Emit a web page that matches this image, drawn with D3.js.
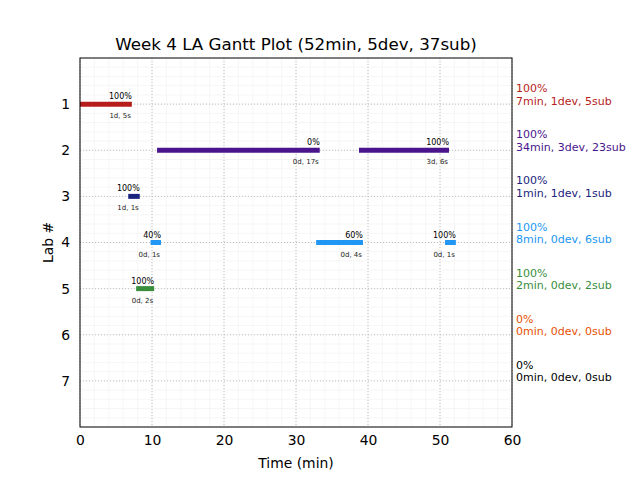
<!DOCTYPE html>
<html><head><meta charset="utf-8">
<script src="https://cdn.jsdelivr.net/npm/d3@7"></script>
<style>body{margin:0;background:#fff;} text{font-family:"DejaVu Sans",sans-serif;}</style>
</head><body><svg id="c" width="640" height="480"></svg>
<script>
const title = "Week 4 LA Gantt Plot (52min, 5dev, 37sub)";
const labs = [1,2,3,4,5,6,7];
const labColors = ["#b71c1c","#4a148c","#1a237e","#2196f3","#388e3c","#e65100","#000000"];
const labPct = ["100%","100%","100%","100%","100%","0%","0%"];
const labSummary = ["7min, 1dev, 5sub","34min, 3dev, 23sub","1min, 1dev, 1sub","8min, 0dev, 6sub","2min, 0dev, 2sub","0min, 0dev, 0sub","0min, 0dev, 0sub"];
const segLab   = [1, 2, 2, 3, 4, 4, 4, 5];
const segStart = [0, 10.7, 38.75, 6.7, 9.8, 32.8, 50.7, 7.8];
const segEnd   = [7.2, 33.3, 51.25, 8.3, 11.25, 39.3, 52.2, 10.3];
const segPct   = ["100%","0%","100%","100%","40%","60%","100%","100%"];
const segInfo  = ["1d, 5s","0d, 17s","3d, 6s","1d, 1s","0d, 1s","0d, 4s","0d, 1s","0d, 2s"];
const xTicks = [0,10,20,30,40,50,60];

const svg = d3.select("#c");
const L=80, R=512, T=58, B=427;
const x = d3.scaleLinear().domain([0,60]).range([L,R]);
const y = d3.scaleLinear().domain([0,8]).range([T,B]);

// minor grid
const g = svg.append("g");
g.selectAll(".mx").data(d3.range(0,60.01,2)).enter().append("line")
 .attr("x1",d=>x(d)).attr("x2",d=>x(d)).attr("y1",T).attr("y2",B)
 .attr("stroke","#f4f4f4").attr("stroke-width",0.8);
g.selectAll(".my").data(d3.range(0,8.01,0.2)).enter().append("line")
 .attr("y1",d=>y(d)).attr("y2",d=>y(d)).attr("x1",L).attr("x2",R)
 .attr("stroke","#f4f4f4").attr("stroke-width",0.8);
// major grid
g.selectAll(".Mx").data(xTicks).enter().append("line")
 .attr("x1",d=>x(d)).attr("x2",d=>x(d)).attr("y1",T).attr("y2",B)
 .attr("stroke","#b0b0b0").attr("stroke-width",0.8).attr("stroke-dasharray","1,2");
g.selectAll(".My").data(labs).enter().append("line")
 .attr("y1",d=>y(d)).attr("y2",d=>y(d)).attr("x1",L).attr("x2",R)
 .attr("stroke","#b0b0b0").attr("stroke-width",0.8).attr("stroke-dasharray","1,2");

// bars
const segs = segLab.map((l,i)=>({lab:l,s:segStart[i],e:segEnd[i],p:segPct[i],info:segInfo[i]}));
svg.selectAll(".bar").data(segs).enter().append("line")
 .attr("x1",d=>x(d.s)).attr("x2",d=>x(d.e)).attr("y1",d=>y(d.lab)).attr("y2",d=>y(d.lab))
 .attr("stroke",d=>labColors[d.lab-1]).attr("stroke-width",5);
svg.selectAll(".pct").data(segs).enter().append("text")
 .attr("x",d=>x(d.e)).attr("y",d=>y(d.lab)-5).attr("text-anchor","end")
 .attr("font-size",8).attr("fill","#000").text(d=>d.p);
svg.selectAll(".info").data(segs).enter().append("text")
 .attr("x",d=>x(d.e)-1).attr("y",d=>y(d.lab)+14).attr("text-anchor","end")
 .attr("font-size",7).attr("fill","#222").text(d=>d.info);

// frame
svg.append("rect").attr("x",L).attr("y",T).attr("width",R-L).attr("height",B-T)
 .attr("fill","none").attr("stroke","#000").attr("stroke-width",1);

// axes
const xa = svg.append("g").attr("transform",`translate(0,${B})`)
 .call(d3.axisBottom(x).tickValues(xTicks).tickSize(0).tickPadding(8));
xa.select(".domain").remove();
xa.selectAll("text").attr("font-size",13.9).attr("font-family","DejaVu Sans").attr("fill","#000");
const ya = svg.append("g").attr("transform",`translate(${L},0)`)
 .call(d3.axisLeft(y).tickValues(labs).tickSize(0).tickPadding(10));
ya.select(".domain").remove();
ya.selectAll("text").attr("font-size",13.9).attr("font-family","DejaVu Sans").attr("fill","#000");

svg.append("text").attr("x",(L+R)/2).attr("y",468).attr("text-anchor","middle")
 .attr("font-size",13.9).text("Time (min)");
svg.append("text").attr("transform",`translate(53,${(T+B)/2}) rotate(-90)`).attr("text-anchor","middle")
 .attr("font-size",13.9).text("Lab #");
svg.append("text").attr("x",(L+R)/2).attr("y",50).attr("text-anchor","middle")
 .attr("font-size",16.7).text(title);

// right legend
const rl = svg.selectAll(".rl").data(labs).enter().append("g");
rl.append("text").attr("x",516).attr("y",d=>y(d)-12).attr("font-size",11)
 .attr("fill",(d,i)=>labColors[i]).text((d,i)=>labPct[i]);
rl.append("text").attr("x",516).attr("y",d=>y(d)+0.5).attr("font-size",11)
 .attr("fill",(d,i)=>labColors[i]).text((d,i)=>labSummary[i]);
</script></body></html>
